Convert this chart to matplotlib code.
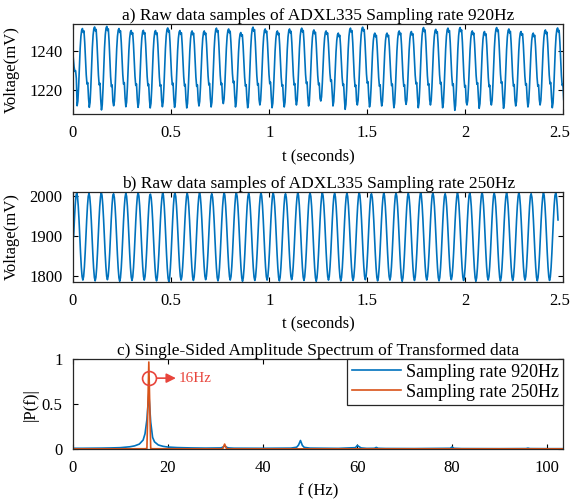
import numpy as np
import matplotlib
matplotlib.use("Agg")
import matplotlib.pyplot as plt
import matplotlib.transforms as mtransforms

# ---- data ----
# a) 920 Hz record: one cycle shape (0 = trough, 1 = peak) and per-cycle extremes (mV)
CYCLE_920 = [0.00, 0.06, 0.25, 0.50, 0.74, 0.90, 0.98, 1.00,
             0.95, 0.97, 0.82, 0.60, 0.40, 0.28, 0.30, 0.10]
PERIOD_920 = 0.0621
FIRST_TROUGH_920 = 0.021
TROUGH_920 = [1224.0, 1212.3, 1211.5, 1210.2, 1212.3, 1211.8, 1211.5, 1211.2, 1211.8, 1211.5,
              1211.2, 1212.2, 1211.7, 1213.4, 1211.7, 1211.3, 1212.7, 1211.3, 1211.7, 1212.7,
              1212.2, 1214.7, 1212.2, 1210.5, 1212.7, 1211.7, 1212.2, 1211.3, 1213.0, 1211.3,
              1212.7, 1211.3, 1210.0, 1212.7, 1211.0, 1212.7, 1211.0, 1212.2, 1211.7, 1212.7,
              1211.3, 1212.0]
PEAK_920 = [1244.0, 1251.2, 1252.0, 1252.3, 1251.2, 1250.2, 1250.3, 1250.2, 1251.5, 1250.2,
            1250.0, 1250.0, 1251.4, 1251.0, 1249.2, 1251.9, 1251.0, 1250.0, 1251.0, 1251.4,
            1250.5, 1250.0, 1248.9, 1251.4, 1251.9, 1248.9, 1248.9, 1250.0, 1249.7, 1251.7,
            1250.8, 1251.4, 1251.7, 1250.0, 1249.7, 1251.7, 1251.0, 1249.7, 1248.9, 1250.5,
            1251.5, 1250.0]

# b) 250 Hz record: one cycle shape starting at a peak, per-cycle extremes (mV)
CYCLE_250 = [1.00, 0.96, 0.85, 0.69, 0.50, 0.31, 0.15, 0.04,
             0.00, 0.04, 0.15, 0.31, 0.50, 0.69, 0.85, 0.96]
PERIOD_250 = 0.0626
FIRST_PEAK_250 = 0.019
END_250 = 2.476
PEAK_250 = [2009, 2008, 2007, 2010, 2006, 2008, 2009, 2005, 2010, 2008,
            2007, 2009, 2006, 2010, 2008, 2007, 2009, 2008, 2006, 2010,
            2008, 2009, 2007, 2008, 2010, 2006, 2009, 2008, 2007, 2010,
            2008, 2006, 2009, 2008, 2010, 2007, 2008, 2009, 2006, 2010,
            2008]
TROUGH_250 = [1789, 1790, 1788, 1791, 1787, 1789, 1790, 1788, 1786, 1790,
              1789, 1791, 1788, 1790, 1787, 1789, 1790, 1788, 1791, 1789,
              1787, 1790, 1788, 1789, 1791, 1788, 1790, 1787, 1789, 1790,
              1788, 1791, 1789, 1787, 1790, 1788, 1789, 1790, 1788, 1789,
              1790]

# c) single-sided amplitude spectra
F_920 = [0, 2, 4, 6, 8, 10, 12, 13, 14, 14.8, 15.2, 15.6, 16.0, 16.4, 16.8, 17.2,
         18, 19, 20, 22, 25, 28, 31.2, 31.6, 32.0, 32.4, 32.8, 34, 40, 46, 47.2,
         47.6, 48.0, 48.4, 48.8, 50, 56, 59.6, 60.0, 60.4, 60.8, 62, 63.6, 64.0,
         64.4, 66, 72, 79.6, 80.0, 80.4, 82, 90, 95.6, 96.0, 96.4, 100, 103.5]
P_920 = [0.008, 0.008, 0.009, 0.010, 0.012, 0.015, 0.025, 0.035, 0.055, 0.10, 0.17, 0.33,
         0.62, 0.30, 0.13, 0.08, 0.045, 0.03, 0.022, 0.016, 0.012, 0.010, 0.012, 0.02,
         0.035, 0.02, 0.012, 0.009, 0.008, 0.010, 0.02, 0.045, 0.095, 0.04, 0.018, 0.01,
         0.007, 0.015, 0.04, 0.025, 0.012, 0.007, 0.008, 0.018, 0.008, 0.006, 0.005,
         0.008, 0.022, 0.008, 0.005, 0.004, 0.005, 0.01, 0.005, 0.004, 0.004]
F_250 = [0, 10, 15.2, 15.6, 16.0, 16.4, 16.8, 25, 31.2, 31.6, 32.0, 32.4, 32.8, 50, 80, 103.5]
P_250 = [0.002, 0.002, 0.003, 0.006, 0.97, 0.006, 0.003, 0.002, 0.002, 0.004, 0.055,
         0.004, 0.002, 0.002, 0.002, 0.002]
MARK_F, MARK_P = 16.0, 0.79
MARK_TEXT = "16Hz"

BLUE = "#0072BD"
ORANGE = "#D95319"
RED = "#E8453C"


def build_wave(shape, lows, highs, period, start):
    """Stack one-cycle shapes scaled to each cycle's low/high values."""
    shape = np.asarray(shape)
    vals = []
    for lo, hi in zip(lows, highs):
        vals.append(lo + (hi - lo) * shape)
    vals = np.concatenate(vals)
    t = start + np.arange(len(vals)) * period / len(shape)
    return t, vals


plt.rcParams['font.family'] = ['Liberation Serif', 'DejaVu Serif']
plt.rcParams['font.size'] = 12
plt.rcParams['axes.linewidth'] = 0.9
plt.rcParams['axes.edgecolor'] = '#262626'
plt.rcParams['xtick.direction'] = 'in'
plt.rcParams['ytick.direction'] = 'in'
plt.rcParams['xtick.top'] = True
plt.rcParams['ytick.right'] = True
plt.rcParams['xtick.major.size'] = 3.5
plt.rcParams['ytick.major.size'] = 3.5
plt.rcParams['xtick.major.pad'] = 8
plt.rcParams['ytick.major.pad'] = 7.5

fig = plt.figure(figsize=(5.72, 5.04), dpi=100)
ax1 = fig.add_axes([0.1276, 0.7732, 0.8575, 0.1792])
ax2 = fig.add_axes([0.1276, 0.4411, 0.8575, 0.1785])
ax3 = fig.add_axes([0.1276, 0.1091, 0.8575, 0.1780])

# a)
t1, v1 = build_wave(CYCLE_920, TROUGH_920, PEAK_920, PERIOD_920, FIRST_TROUGH_920 - PERIOD_920)
ax1.plot(t1, v1, color=BLUE, lw=1.2)
ax1.set_xlim(0, 2.5)
ax1.set_ylim(1208, 1253.5)
ax1.set_yticks([1220, 1240])
ax1.set_xlabel("t (seconds)", labelpad=5)
ax1.set_ylabel("Voltage(mV)")
ax1.set_title("a) Raw data samples of ADXL335 Sampling rate 920Hz", fontsize=12.5, pad=3)

# b)
t2, v2 = build_wave(CYCLE_250, TROUGH_250, PEAK_250, PERIOD_250, FIRST_PEAK_250 - PERIOD_250)
keep = (t2 >= 0) & (t2 <= END_250)
ax2.plot(t2[keep], v2[keep], color=BLUE, lw=1.2)
ax2.set_xlim(0, 2.5)
ax2.set_ylim(1786, 2011)
ax2.set_yticks([1800, 1900, 2000])
ax2.set_xlabel("t (seconds)", labelpad=5)
ax2.set_ylabel("Voltage(mV)")
ax2.set_title("b) Raw data samples of ADXL335 Sampling rate 250Hz", fontsize=12.5, pad=3)

# last tick label "2.5" is nudged in a little so it stays inside the figure
nudge = mtransforms.ScaledTranslation(-4 / 100, 0, fig.dpi_scale_trans)
for ax in (ax1, ax2):
    ax.set_xticks([0, 0.5, 1, 1.5, 2, 2.5])
    ax.set_xticklabels(["0", "0.5", "1", "1.5", "2", "2.5"])
    ax.yaxis.set_label_coords(-0.108, 0.5)
    last = ax.get_xticklabels()[-1]
    last.set_transform(last.get_transform() + nudge)

# c)
ax3.plot(F_920, P_920, color=BLUE, lw=1.2, label="Sampling rate 920Hz")
ax3.plot(F_250, P_250, color=ORANGE, lw=1.2, label="Sampling rate 250Hz")
ax3.plot(MARK_F, MARK_P, 'o', mfc='none', mec=RED, ms=10, mew=1.2)
ax3.annotate("", xy=(MARK_F + 6.3, MARK_P), xytext=(MARK_F + 1.2, MARK_P),
             arrowprops=dict(arrowstyle="-|>", color=RED, lw=1.2, mutation_scale=14))
ax3.text(MARK_F + 6.3, MARK_P, MARK_TEXT, color=RED, fontsize=11, va='center')
ax3.set_xlim(0, 103.5)
ax3.set_ylim(0, 1)
ax3.set_yticks([0, 0.5, 1])
ax3.set_yticklabels(["0", "0.5", "1"])
ax3.set_xticks([0, 20, 40, 60, 80, 100])
ax3.set_xlabel("f (Hz)", labelpad=5)
ax3.set_ylabel("|P(f)|")
ax3.yaxis.set_label_coords(-0.07, 0.5)
ax3.set_title("c) Single-Sided Amplitude Spectrum of Transformed data", fontsize=12.5, pad=3)
leg = ax3.legend(loc='upper right', borderaxespad=0, fancybox=False, framealpha=1,
                 edgecolor='#262626', handlelength=2.7, fontsize=13,
                 borderpad=0.25, labelspacing=0.15, handletextpad=0.3)
leg.get_frame().set_linewidth(0.9)

fig.savefig("out.png", dpi=100)
